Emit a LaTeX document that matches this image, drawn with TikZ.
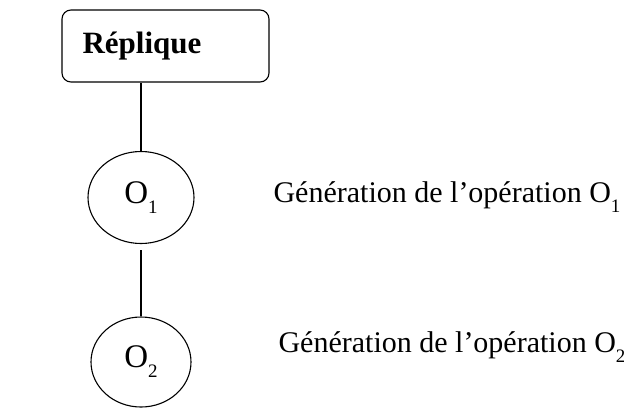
\documentclass[tikz,border=0pt]{standalone}
\usepackage{fontspec}
\setmainfont{Liberation Serif}
\usetikzlibrary{shapes.geometric}
% lowered, smaller index digit after an operation letter
\newcommand{\opidx}[1]{\raisebox{-10pt}{\fontsize{19}{19}\selectfont #1}}
\begin{document}
\begin{tikzpicture}[x=1pt,y=-1pt,line width=1.1pt,
  replica/.style={draw,rounded corners=9pt,minimum width=207pt,minimum height=72pt,inner sep=0pt},
  title/.style={anchor=base,inner sep=0pt,font=\fontsize{31}{31}\selectfont\bfseries},
  opnode/.style={draw,ellipse,inner sep=0pt,font=\fontsize{33}{33}\selectfont},
  caption/.style={anchor=base west,inner sep=0pt,font=\fontsize{30}{30}\selectfont}]
\useasboundingbox (0,0) rectangle (624,408);
\node[replica] (rep) at (165.5,46) {};
\node[title] (reptxt) at (142,53) {Réplique};
\node[opnode,minimum width=106pt,minimum height=92pt] (o1) at (141,197.5) {O\opidx{1}};
\node[opnode,minimum width=100pt,minimum height=90pt] (o2) at (141,362) {O\opidx{2}};
\node[caption] (c1) at (273,202) {Génération de l’opération O\opidx{1}};
\node[caption] (c2) at (278,352) {Génération de l’opération O\opidx{2}};
\draw (o1.north) -- (o1.north |- rep.south);
\draw ([yshift=-6pt]o1.south) -- (o2.north);
\end{tikzpicture}
\end{document}
